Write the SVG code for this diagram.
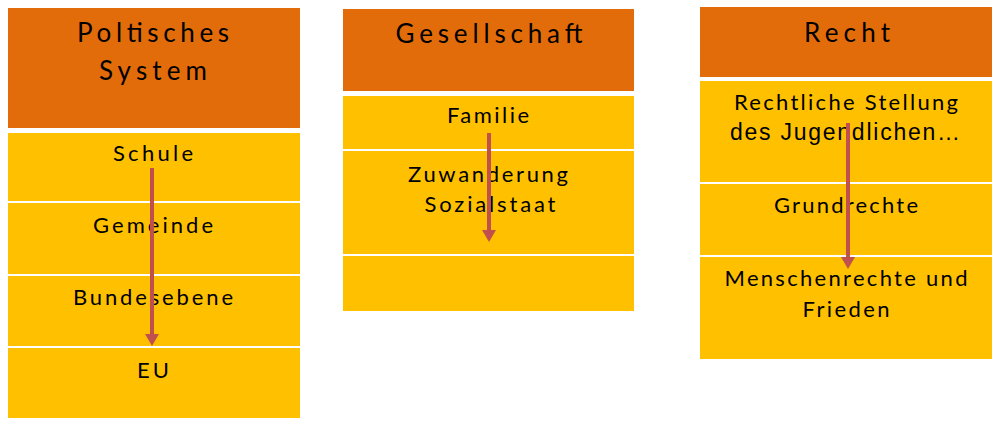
<svg xmlns="http://www.w3.org/2000/svg" width="1000" height="429" viewBox="0 0 1000 429">
<style>
.hd{fill:#E36C0A}
.bx{fill:#FFC000}
.ht{font-family:Lato,"Liberation Sans",sans-serif;font-size:26px;fill:#000;text-anchor:middle}
.bt{font-family:Lato,"Liberation Sans",sans-serif;font-size:22px;fill:#000;text-anchor:middle}
.at{font-family:"Liberation Sans",Arial,sans-serif;font-size:23px;fill:#000;text-anchor:middle}
.ar{stroke:#C0504D;stroke-width:4;fill:none}
</style>
<defs>
<marker id="ah" markerUnits="userSpaceOnUse" markerWidth="14" markerHeight="14" viewBox="0 0 14 14" refX="2" refY="7" orient="auto">
<path d="M0,0 L12,7 L0,14 Z" fill="#C0504D"/>
</marker>
</defs>
<rect width="1000" height="429" fill="#fff"/>
<g id="col1">
<g id="n-politik"><rect class="hd" x="8" y="8" width="292" height="120"/>
<text class="ht" x="153" y="42" textLength="152" lengthAdjust="spacing">Poltisches</text>
<text class="ht" x="153" y="80" textLength="108" lengthAdjust="spacing">System</text></g>
<g id="n-schule"><rect class="bx" x="8" y="133" width="292" height="68"/><text class="bt" x="153" y="161" textLength="80" lengthAdjust="spacing">Schule</text></g>
<g id="n-gemeinde"><rect class="bx" x="8" y="203" width="292" height="71"/><text class="bt" x="153" y="233" textLength="120" lengthAdjust="spacing">Gemeinde</text></g>
<g id="n-bund"><rect class="bx" x="8" y="276" width="292" height="70"/><text class="bt" x="153" y="305" textLength="160" lengthAdjust="spacing">Bundesebene</text></g>
<g id="n-eu"><rect class="bx" x="8" y="348" width="292" height="70"/><text class="bt" x="153" y="378" textLength="32" lengthAdjust="spacing">EU</text></g>
</g>
<g id="col2">
<g id="n-gesellschaft"><rect class="hd" x="343" y="9" width="291" height="82"/>
<text class="ht" x="489" y="43" textLength="187" lengthAdjust="spacing">Gesellschaft</text></g>
<g id="n-familie"><rect class="bx" x="343" y="96" width="291" height="53"/><text class="bt" x="488" y="123" textLength="82" lengthAdjust="spacing">Familie</text></g>
<g id="n-zuwanderung"><rect class="bx" x="343" y="151" width="291" height="103"/>
<text class="bt" x="488" y="182" textLength="160" lengthAdjust="spacing">Zuwanderung</text>
<text class="bt" x="490" y="212" textLength="131" lengthAdjust="spacing">Sozialstaat</text></g>
<g id="n-leer"><rect class="bx" x="343" y="256" width="291" height="55"/></g>
</g>
<g id="col3">
<g id="n-recht"><rect class="hd" x="700" y="7" width="292" height="70"/>
<text class="ht" x="847" y="42" textLength="86" lengthAdjust="spacing">Recht</text></g>
<g id="n-stellung"><rect class="bx" x="700" y="81" width="292" height="101"/>
<text class="bt" x="846" y="110" textLength="224" lengthAdjust="spacing">Rechtliche Stellung</text>
<text class="at" x="845" y="140" textLength="230" lengthAdjust="spacing">des Jugendlichen…</text></g>
<g id="n-grundrechte"><rect class="bx" x="700" y="184" width="292" height="71"/><text class="bt" x="846" y="213" textLength="144" lengthAdjust="spacing">Grundrechte</text></g>
<g id="n-menschenrechte"><rect class="bx" x="700" y="257" width="292" height="102"/>
<text class="bt" x="846" y="286" textLength="243" lengthAdjust="spacing">Menschenrechte und</text>
<text class="bt" x="846" y="317" textLength="87" lengthAdjust="spacing">Frieden</text></g>
</g>
<g id="connectors">
<line class="ar" x1="152" y1="168" x2="152" y2="336" marker-end="url(#ah)"/>
<line class="ar" x1="489" y1="133" x2="489" y2="232" marker-end="url(#ah)"/>
<line class="ar" x1="848" y1="123" x2="848" y2="259" marker-end="url(#ah)"/>
</g>
</svg>
